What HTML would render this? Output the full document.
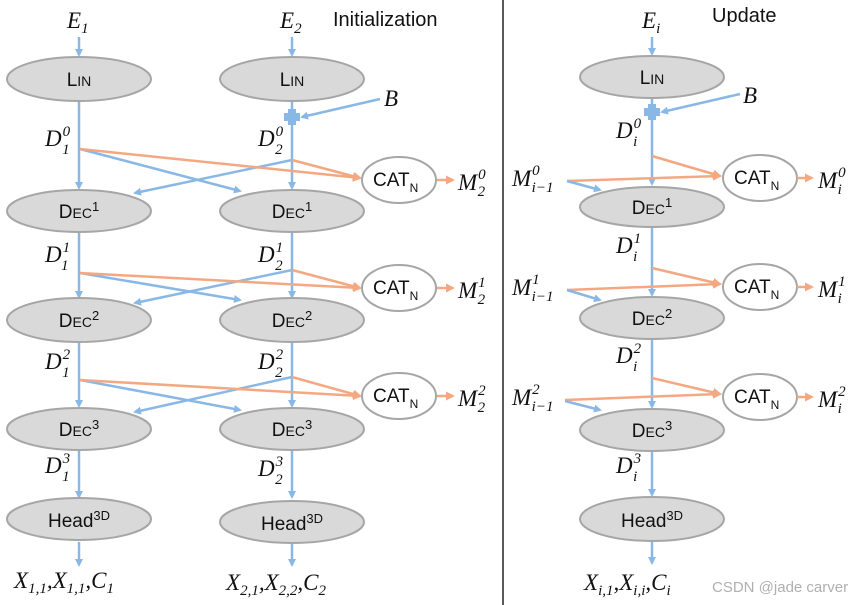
<!DOCTYPE html>
<html><head><meta charset="utf-8"><style>
html,body{margin:0;padding:0;background:#fff;}
svg{display:block;}
.m{font-family:"Liberation Serif",serif;font-style:italic;font-size:23px;fill:#111;}
.s{font-size:15px;}
.n{font-family:"Liberation Sans",sans-serif;fill:#111;}
.b{stroke:#8ab8e6;stroke-width:2.5;fill:none;}
.o{stroke:#f4a882;stroke-width:2.5;fill:none;}
.e{fill:#d9d9d9;stroke:#a6a6a6;stroke-width:2;}
.c{fill:#fff;stroke:#a6a6a6;stroke-width:2;}
</style></head><body>
<svg width="859" height="605" viewBox="0 0 859 605" xmlns="http://www.w3.org/2000/svg">
<defs>
<marker id="ab" markerWidth="8" markerHeight="8" refX="6" refY="4" orient="auto" markerUnits="userSpaceOnUse"><path d="M0,0 L8,4 L0,8 z" fill="#8ab8e6"/></marker>
<marker id="ao" markerWidth="9" markerHeight="9" refX="7" refY="4.5" orient="auto" markerUnits="userSpaceOnUse"><path d="M0,0 L9,4.5 L0,9 z" fill="#f4a882"/></marker>
</defs>
<line x1="503" y1="0" x2="503" y2="605" stroke="#222" stroke-width="1.5"/>

<!-- column 1 -->
<text class="m" x="67" y="28">E<tspan class="s" dy="5">1</tspan></text>
<line class="b" x1="79" y1="37" x2="79" y2="55" marker-end="url(#ab)"/>
<line class="b" x1="79" y1="101" x2="79" y2="188" marker-end="url(#ab)"/>
<line class="b" x1="79" y1="232" x2="79" y2="297" marker-end="url(#ab)"/>
<line class="b" x1="79" y1="342" x2="79" y2="406" marker-end="url(#ab)"/>
<line class="b" x1="79" y1="451" x2="79" y2="497" marker-end="url(#ab)"/>
<line class="b" x1="79" y1="542" x2="79" y2="565" marker-end="url(#ab)"/>
<!-- column 2 -->
<text class="m" x="280" y="28">E<tspan class="s" dy="5">2</tspan></text>
<text class="n" x="333" y="26" font-size="20">Initialization</text>
<line class="b" x1="292" y1="37" x2="292" y2="55" marker-end="url(#ab)"/>
<line class="b" x1="292" y1="101" x2="292" y2="188" marker-end="url(#ab)"/>
<line class="b" x1="292" y1="232" x2="292" y2="297" marker-end="url(#ab)"/>
<line class="b" x1="292" y1="342" x2="292" y2="406" marker-end="url(#ab)"/>
<line class="b" x1="292" y1="451" x2="292" y2="497" marker-end="url(#ab)"/>
<line class="b" x1="292" y1="542" x2="292" y2="565" marker-end="url(#ab)"/>
<rect x="284" y="113" width="16" height="8" fill="#8ab8e6"/><rect x="288" y="109" width="8" height="16" fill="#8ab8e6"/>
<line class="b" x1="380" y1="99" x2="302" y2="117" marker-end="url(#ab)"/>
<text class="m" x="384" y="106">B</text>

<!-- crossings -->
<g>
<line class="b" x1="80" y1="149" x2="240" y2="191" marker-end="url(#ab)"/>
<line class="b" x1="292" y1="160" x2="135" y2="193" marker-end="url(#ab)"/>
<line class="o" x1="80" y1="149" x2="360" y2="178" marker-end="url(#ao)"/>
<line class="o" x1="292" y1="160" x2="360" y2="178" marker-end="url(#ao)"/>
<line class="b" x1="80" y1="273" x2="240" y2="300" marker-end="url(#ab)"/>
<line class="b" x1="292" y1="270" x2="135" y2="303" marker-end="url(#ab)"/>
<line class="o" x1="80" y1="273" x2="360" y2="288" marker-end="url(#ao)"/>
<line class="o" x1="292" y1="270" x2="360" y2="288" marker-end="url(#ao)"/>
<line class="b" x1="80" y1="380" x2="240" y2="410" marker-end="url(#ab)"/>
<line class="b" x1="292" y1="377" x2="135" y2="412" marker-end="url(#ab)"/>
<line class="o" x1="80" y1="380" x2="360" y2="396" marker-end="url(#ao)"/>
<line class="o" x1="292" y1="377" x2="360" y2="396" marker-end="url(#ao)"/>
</g>

<!-- ellipses col1/col2 -->
<g>
<ellipse class="e" cx="79" cy="79" rx="72" ry="22"/><ellipse class="e" cx="292" cy="79" rx="72" ry="22"/>
<ellipse class="e" cx="79" cy="211" rx="72" ry="21"/><ellipse class="e" cx="292" cy="211" rx="72" ry="21"/>
<ellipse class="e" cx="79" cy="320" rx="72" ry="22"/><ellipse class="e" cx="292" cy="320" rx="72" ry="22"/>
<ellipse class="e" cx="79" cy="429" rx="72" ry="21"/><ellipse class="e" cx="292" cy="429" rx="72" ry="21"/>
<ellipse class="e" cx="79" cy="519" rx="72" ry="21"/><ellipse class="e" cx="292" cy="522" rx="72" ry="21"/>
</g>
<g class="n" text-anchor="middle">
<text x="79" y="86" font-size="19">L<tspan font-size="14">IN</tspan></text>
<text x="292" y="86" font-size="19">L<tspan font-size="14">IN</tspan></text>
<text x="79" y="218" font-size="19">D<tspan font-size="14">EC</tspan><tspan font-size="13" dy="-7">1</tspan></text>
<text x="292" y="218" font-size="19">D<tspan font-size="14">EC</tspan><tspan font-size="13" dy="-7">1</tspan></text>
<text x="79" y="327" font-size="19">D<tspan font-size="14">EC</tspan><tspan font-size="13" dy="-7">2</tspan></text>
<text x="292" y="327" font-size="19">D<tspan font-size="14">EC</tspan><tspan font-size="13" dy="-7">2</tspan></text>
<text x="79" y="436" font-size="19">D<tspan font-size="14">EC</tspan><tspan font-size="13" dy="-7">3</tspan></text>
<text x="292" y="436" font-size="19">D<tspan font-size="14">EC</tspan><tspan font-size="13" dy="-7">3</tspan></text>
<text x="79" y="527" font-size="19">Head<tspan font-size="13" dy="-7">3D</tspan></text>
<text x="292" y="530" font-size="19">Head<tspan font-size="13" dy="-7">3D</tspan></text>
</g>

<!-- D labels col1/2 -->
<g class="m">
<text x="45" y="146">D<tspan class="s" dx="1" dy="-10">0</tspan><tspan class="s" dx="-8" dy="18">1</tspan></text>
<text x="258" y="146">D<tspan class="s" dx="1" dy="-10">0</tspan><tspan class="s" dx="-8" dy="18">2</tspan></text>
<text x="45" y="262">D<tspan class="s" dx="1" dy="-10">1</tspan><tspan class="s" dx="-8" dy="18">1</tspan></text>
<text x="258" y="262">D<tspan class="s" dx="1" dy="-10">1</tspan><tspan class="s" dx="-8" dy="18">2</tspan></text>
<text x="45" y="369">D<tspan class="s" dx="1" dy="-10">2</tspan><tspan class="s" dx="-8" dy="18">1</tspan></text>
<text x="258" y="369">D<tspan class="s" dx="1" dy="-10">2</tspan><tspan class="s" dx="-8" dy="18">2</tspan></text>
<text x="45" y="473">D<tspan class="s" dx="1" dy="-10">3</tspan><tspan class="s" dx="-8" dy="18">1</tspan></text>
<text x="258" y="476">D<tspan class="s" dx="1" dy="-10">3</tspan><tspan class="s" dx="-8" dy="18">2</tspan></text>
<text x="14" y="588">X<tspan class="s" dy="5">1,1</tspan><tspan dy="-5">,X</tspan><tspan class="s" dy="5">1,1</tspan><tspan dy="-5">,C</tspan><tspan class="s" dy="5">1</tspan></text>
<text x="226" y="590">X<tspan class="s" dy="5">2,1</tspan><tspan dy="-5">,X</tspan><tspan class="s" dy="5">2,2</tspan><tspan dy="-5">,C</tspan><tspan class="s" dy="5">2</tspan></text>
</g>

<!-- CAT left -->
<g>
<ellipse class="c" cx="399" cy="180" rx="37" ry="23"/>
<ellipse class="c" cx="399" cy="288" rx="37" ry="23"/>
<ellipse class="c" cx="399" cy="396" rx="37" ry="23"/>
<line class="o" x1="437" y1="180" x2="453" y2="180" marker-end="url(#ao)"/>
<line class="o" x1="437" y1="288" x2="453" y2="288" marker-end="url(#ao)"/>
<line class="o" x1="437" y1="396" x2="453" y2="396" marker-end="url(#ao)"/>
</g>
<g class="n" font-size="19">
<text x="373" y="186">CAT<tspan font-size="12" dy="6">N</tspan></text>
<text x="373" y="294">CAT<tspan font-size="12" dy="6">N</tspan></text>
<text x="373" y="402">CAT<tspan font-size="12" dy="6">N</tspan></text>
</g>
<g class="m">
<text x="458" y="190">M<tspan class="s" dx="1" dy="-11">0</tspan><tspan class="s" dx="-8" dy="17">2</tspan></text>
<text x="458" y="298">M<tspan class="s" dx="1" dy="-11">1</tspan><tspan class="s" dx="-8" dy="17">2</tspan></text>
<text x="458" y="406">M<tspan class="s" dx="1" dy="-11">2</tspan><tspan class="s" dx="-8" dy="17">2</tspan></text>
</g>

<!-- right column -->
<text class="m" x="642" y="28">E<tspan class="s" dy="5">i</tspan></text>
<text class="n" x="712" y="22" font-size="20">Update</text>
<line class="b" x1="652" y1="37" x2="652" y2="54" marker-end="url(#ab)"/>
<line class="b" x1="652" y1="99" x2="652" y2="184" marker-end="url(#ab)"/>
<line class="b" x1="652" y1="228" x2="652" y2="295" marker-end="url(#ab)"/>
<line class="b" x1="652" y1="339" x2="652" y2="407" marker-end="url(#ab)"/>
<line class="b" x1="652" y1="451" x2="652" y2="495" marker-end="url(#ab)"/>
<line class="b" x1="652" y1="541" x2="652" y2="563" marker-end="url(#ab)"/>
<rect x="644" y="108" width="16" height="8" fill="#8ab8e6"/><rect x="648" y="104" width="8" height="16" fill="#8ab8e6"/>
<line class="b" x1="740" y1="94" x2="662" y2="112" marker-end="url(#ab)"/>
<text class="m" x="743" y="103">B</text>

<line class="o" x1="652" y1="156" x2="720" y2="176" marker-end="url(#ao)"/>
<line class="o" x1="567" y1="181" x2="720" y2="176" marker-end="url(#ao)"/>
<line class="b" x1="567" y1="181" x2="600" y2="190" marker-end="url(#ab)"/>
<line class="o" x1="652" y1="268" x2="720" y2="284" marker-end="url(#ao)"/>
<line class="o" x1="567" y1="290" x2="720" y2="284" marker-end="url(#ao)"/>
<line class="b" x1="567" y1="290" x2="600" y2="300" marker-end="url(#ab)"/>
<line class="o" x1="652" y1="378" x2="720" y2="394" marker-end="url(#ao)"/>
<line class="o" x1="565" y1="400" x2="720" y2="394" marker-end="url(#ao)"/>
<line class="b" x1="565" y1="401" x2="600" y2="410" marker-end="url(#ab)"/>

<ellipse class="e" cx="652" cy="77" rx="72" ry="21"/>
<ellipse class="e" cx="652" cy="207" rx="72" ry="20"/>
<ellipse class="e" cx="652" cy="318" rx="72" ry="21"/>
<ellipse class="e" cx="652" cy="430" rx="72" ry="21"/>
<ellipse class="e" cx="652" cy="519" rx="72" ry="22"/>
<g class="n" text-anchor="middle">
<text x="652" y="84" font-size="19">L<tspan font-size="14">IN</tspan></text>
<text x="652" y="214" font-size="19">D<tspan font-size="14">EC</tspan><tspan font-size="13" dy="-7">1</tspan></text>
<text x="652" y="325" font-size="19">D<tspan font-size="14">EC</tspan><tspan font-size="13" dy="-7">2</tspan></text>
<text x="652" y="437" font-size="19">D<tspan font-size="14">EC</tspan><tspan font-size="13" dy="-7">3</tspan></text>
<text x="652" y="527" font-size="19">Head<tspan font-size="13" dy="-7">3D</tspan></text>
</g>
<ellipse class="c" cx="760" cy="178" rx="37" ry="23"/>
<ellipse class="c" cx="760" cy="287" rx="37" ry="23"/>
<ellipse class="c" cx="760" cy="397" rx="37" ry="23"/>
<line class="o" x1="797" y1="178" x2="812" y2="178" marker-end="url(#ao)"/>
<line class="o" x1="797" y1="287" x2="812" y2="287" marker-end="url(#ao)"/>
<line class="o" x1="797" y1="397" x2="812" y2="397" marker-end="url(#ao)"/>
<g class="n" font-size="19">
<text x="734" y="184">CAT<tspan font-size="12" dy="6">N</tspan></text>
<text x="734" y="293">CAT<tspan font-size="12" dy="6">N</tspan></text>
<text x="734" y="403">CAT<tspan font-size="12" dy="6">N</tspan></text>
</g>
<g class="m">
<text x="818" y="188">M<tspan class="s" dx="1" dy="-11">0</tspan><tspan class="s" dx="-8" dy="17">i</tspan></text>
<text x="818" y="297">M<tspan class="s" dx="1" dy="-11">1</tspan><tspan class="s" dx="-8" dy="17">i</tspan></text>
<text x="818" y="407">M<tspan class="s" dx="1" dy="-11">2</tspan><tspan class="s" dx="-8" dy="17">i</tspan></text>
<text x="512" y="186">M<tspan class="s" dx="1" dy="-11">0</tspan><tspan class="s" dx="-8" dy="17">i−1</tspan></text>
<text x="512" y="295">M<tspan class="s" dx="1" dy="-11">1</tspan><tspan class="s" dx="-8" dy="17">i−1</tspan></text>
<text x="512" y="405">M<tspan class="s" dx="1" dy="-11">2</tspan><tspan class="s" dx="-8" dy="17">i−1</tspan></text>
<text x="616" y="138">D<tspan class="s" dx="1" dy="-10">0</tspan><tspan class="s" dx="-8" dy="18">i</tspan></text>
<text x="616" y="253">D<tspan class="s" dx="1" dy="-10">1</tspan><tspan class="s" dx="-8" dy="18">i</tspan></text>
<text x="616" y="363">D<tspan class="s" dx="1" dy="-10">2</tspan><tspan class="s" dx="-8" dy="18">i</tspan></text>
<text x="616" y="473">D<tspan class="s" dx="1" dy="-10">3</tspan><tspan class="s" dx="-8" dy="18">i</tspan></text>
<text x="584" y="590">X<tspan class="s" dy="5">i,1</tspan><tspan dy="-5">,X</tspan><tspan class="s" dy="5">i,i</tspan><tspan dy="-5">,C</tspan><tspan class="s" dy="5">i</tspan></text>
</g>
<text x="712" y="592" font-family="Liberation Sans,sans-serif" font-size="15" fill="#b0b0b0">CSDN @jade carver</text>
</svg>
</body></html>
